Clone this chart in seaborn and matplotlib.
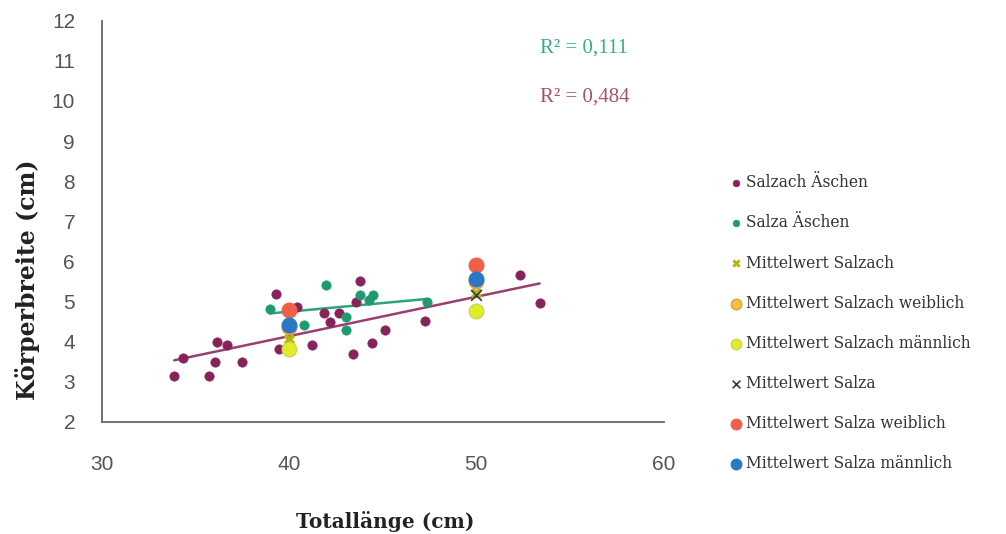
import numpy as np
import pandas as pd
import matplotlib
matplotlib.use("Agg")
import matplotlib.pyplot as plt
import seaborn as sns

# ---- data ----
salzach_x = [33.88, 34.35, 35.74, 36.06, 36.15, 36.72, 37.52, 39.33, 39.47, 40.45, 41.25,
             41.88, 42.17, 42.66, 43.40, 43.57, 43.82, 44.41, 45.12, 47.29, 52.35, 53.38]
salzach_y = [3.15, 3.58, 3.15, 3.48, 3.98, 3.92, 3.48, 5.18, 3.82, 4.85, 3.92,
             4.71, 4.48, 4.71, 3.69, 4.98, 5.52, 3.96, 4.28, 4.50, 5.65, 4.97]
salza_x = [38.98, 40.80, 41.96, 43.06, 43.06, 43.80, 44.27, 44.48, 47.38]
salza_y = [4.82, 4.42, 5.40, 4.61, 4.28, 5.17, 5.04, 5.17, 4.98]

mean_x = [40, 50]
mw_salzach = [4.05, 5.20]
mw_salzach_w = [4.35, 5.50]
mw_salzach_m = [3.82, 4.75]
mw_salza = [4.60, 5.17]
mw_salza_w = [4.78, 5.92]
mw_salza_m = [4.42, 5.55]

r2_labels = ["R² = 0,111", "R² = 0,484"]
x_ticks = [30, 40, 50, 60]
y_ticks = list(range(2, 13))

# ---- style ----
sns.set_style("white")
plt.rcParams['font.family'] = ['DejaVu Serif', 'DejaVu Sans']

c_salzach = "#86245A"
c_salza = "#1F9A6E"

fig = plt.figure(figsize=(10.06, 5.34), dpi=100)
ax = fig.add_axes([0.1009, 0.2103, 0.5588, 0.7509])

sns.regplot(x=salzach_x, y=salzach_y, ax=ax, scatter=False, ci=None, truncate=True,
            line_kws=dict(color="#9A3F6E", lw=1.8))
sns.regplot(x=salza_x, y=salza_y, ax=ax, scatter=False, ci=None, truncate=True,
            line_kws=dict(color="#2BA57C", lw=1.8))

sns.scatterplot(x=salzach_x, y=salzach_y, ax=ax, color=c_salzach, s=45, edgecolor=c_salzach,
                linewidth=0.5, label="Salzach Äschen", zorder=3)
sns.scatterplot(x=salza_x, y=salza_y, ax=ax, color=c_salza, s=45, edgecolor=c_salza,
                linewidth=0.5, label="Salza Äschen", zorder=3)
sns.scatterplot(x=mean_x, y=mw_salzach, ax=ax, marker="X", color="#B8B414", s=70,
                linewidth=0, label="Mittelwert Salzach", zorder=4)
sns.scatterplot(x=mean_x, y=mw_salzach_w, ax=ax, color="#F2C43C", s=110, edgecolor="#E89A4A",
                linewidth=1, label="Mittelwert Salzach weiblich", zorder=4)
sns.scatterplot(x=mean_x, y=mw_salzach_m, ax=ax, color="#E0EC2A", s=110, edgecolor="#C8D850",
                linewidth=1, label="Mittelwert Salzach männlich", zorder=5)
sns.scatterplot(x=mean_x, y=mw_salza, ax=ax, marker="x", color="#3A3A3A", s=60,
                linewidth=1.2, label="Mittelwert Salza", zorder=4)
sns.scatterplot(x=mean_x, y=mw_salza_w, ax=ax, color="#EE6048", s=110, edgecolor="#EE6048",
                linewidth=1, label="Mittelwert Salza weiblich", zorder=5)
sns.scatterplot(x=mean_x, y=mw_salza_m, ax=ax, color="#2A78C4", s=110, edgecolor="#2A78C4",
                linewidth=1, label="Mittelwert Salza männlich", zorder=5)

handles, labels = ax.get_legend_handles_labels()
ax.get_legend().remove()
leg = fig.legend(handles, labels, loc="upper left", bbox_to_anchor=(0.708, 0.700),
                 frameon=False, fontsize=11.2, labelspacing=1.49, handletextpad=0.05,
                 markerscale=0.72, handlelength=1.2)
for t in leg.get_texts():
    t.set_color("#333333")

ax.set_xlim(30, 60)
ax.set_ylim(2, 12)
ax.set_xticks(x_ticks)
ax.set_yticks(y_ticks)
for sp in ["top", "right"]:
    ax.spines[sp].set_visible(False)
for sp in ["left", "bottom"]:
    ax.spines[sp].set_color("#666666")
    ax.spines[sp].set_linewidth(1.3)
ax.tick_params(axis="x", direction="out", length=7, width=1.2, color="#666666", pad=17,
               labelsize=15, labelcolor="#555555")
ax.tick_params(axis="y", direction="out", length=7, width=1.2, color="#666666", pad=12,
               labelsize=15, labelcolor="#555555")
for lab in ax.get_xticklabels() + ax.get_yticklabels():
    lab.set_family(["Liberation Sans", "DejaVu Sans"])

ax.set_xlabel("Totallänge (cm)", fontsize=14.5, fontweight="bold", color="#222222")
ax.xaxis.set_label_coords(0.504, -0.222)
ax.set_ylabel("Körperbreite (cm)", fontsize=17, fontweight="bold", color="#222222")
ax.yaxis.set_label_coords(-0.11, 0.355)

ax.text(53.4, 11.33, r2_labels[0], color="#3AAA8A", fontsize=15, va="center", ha="left",
        family=["Liberation Serif", "DejaVu Serif"])
ax.text(53.4, 10.1, r2_labels[1], color="#A3526F", fontsize=15, va="center", ha="left",
        family=["Liberation Serif", "DejaVu Serif"])

fig.savefig("out.png", dpi=100)
